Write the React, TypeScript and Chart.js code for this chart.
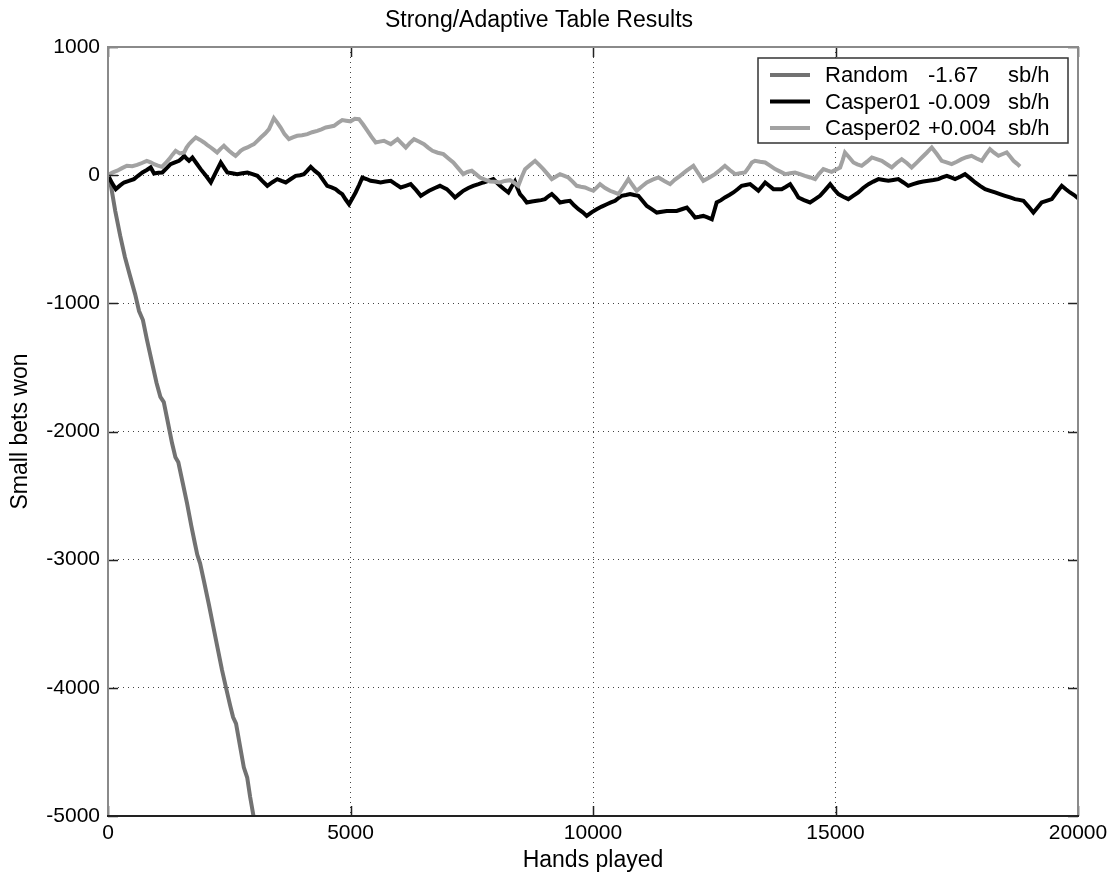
import React, { useEffect, useRef } from "react";
import { Chart, registerables } from "chart.js";

Chart.register(...registerables);

const chartTitle = "Strong/Adaptive Table Results";
const xAxisTitle = "Hands played";
const yAxisTitle = "Small bets won";
const xTicks = [0, 5000, 10000, 15000, 20000];
const yTicks = [-5000, -4000, -3000, -2000, -1000, 0, 1000];
const seriesNames = ["Random", "Casper01", "Casper02"];
const seriesRates = ["-1.67", "-0.009", "+0.004"];
const rateUnit = "sb/h";
const seriesColors = ["#727272", "#000000", "#a2a2a2"];

const randomHands = [0, 60, 150, 250, 350, 450, 560, 640, 720, 800, 900, 1000, 1080, 1150, 1230, 1320, 1390, 1450, 1540, 1630, 1720, 1790, 1840, 1900, 1980, 2080, 2170, 2260, 2350, 2440, 2520, 2580, 2640, 2720, 2800, 2870, 2930, 3000, 3030];
const randomWon = [0, -80, -280, -470, -640, -780, -930, -1060, -1130, -1280, -1450, -1620, -1730, -1770, -1920, -2090, -2200, -2240, -2400, -2560, -2740, -2870, -2960, -3030, -3170, -3350, -3520, -3690, -3860, -4010, -4140, -4230, -4280, -4450, -4620, -4700, -4850, -5000, -5060];

const casper01Hands = [0, 80, 160, 250, 330, 430, 535, 620, 710, 800, 880, 950, 1040, 1120, 1210, 1290, 1380, 1465, 1520, 1570, 1620, 1670, 1740, 1820, 1910, 2020, 2120, 2220, 2325, 2400, 2460, 2560, 2665, 2770, 2875, 2980, 3080, 3180, 3285, 3390, 3490, 3580, 3665, 3770, 3870, 3960, 4040, 4110, 4180, 4260, 4350, 4440, 4520, 4610, 4695, 4760, 4830, 4900, 4970, 5040, 5105, 5180, 5245, 5330, 5415, 5520, 5620, 5720, 5830, 5930, 6035, 6140, 6240, 6350, 6450, 6540, 6620, 6740, 6845, 6915, 6985, 7070, 7155, 7240, 7325, 7430, 7530, 7640, 7740, 7840, 7945, 8015, 8085, 8170, 8255, 8320, 8390, 8440, 8495, 8570, 8635, 8740, 8840, 8930, 9010, 9080, 9150, 9240, 9320, 9420, 9525, 9610, 9700, 9790, 9870, 9970, 10075, 10180, 10285, 10370, 10455, 10520, 10590, 10680, 10765, 10850, 10935, 11020, 11110, 11210, 11315, 11420, 11520, 11620, 11725, 11830, 11935, 12020, 12105, 12190, 12275, 12360, 12450, 12500, 12550, 12640, 12720, 12810, 12895, 12980, 13065, 13150, 13240, 13340, 13410, 13480, 13550, 13640, 13720, 13800, 13890, 13980, 14065, 14150, 14235, 14350, 14475, 14580, 14680, 14790, 14890, 14970, 15060, 15160, 15265, 15370, 15470, 15570, 15680, 15780, 15885, 15990, 16090, 16190, 16295, 16400, 16500, 16600, 16710, 16810, 16915, 17020, 17120, 17200, 17295, 17380, 17465, 17570, 17670, 17780, 17880, 17980, 18085, 18190, 18290, 18390, 18495, 18600, 18700, 18790, 18875, 18980, 19080, 19170, 19250, 19350, 19460, 19560, 19665, 19750, 19835, 19920, 20000];
const casper01Won = [0, -60, -109, -80, -57, -45, -31, -5, 21, 40, 60, 13, 18, 21, 55, 86, 100, 112, 130, 151, 130, 112, 138, 95, 47, -5, -57, 20, 99, 55, 21, 15, 8, 15, 21, 8, -5, -45, -83, -55, -31, -45, -57, -30, -5, 0, 8, 35, 65, 35, 8, -40, -83, -95, -109, -130, -148, -190, -227, -180, -135, -75, -18, -30, -44, -50, -57, -50, -44, -70, -96, -83, -70, -115, -161, -140, -122, -100, -83, -96, -109, -140, -174, -148, -122, -100, -83, -70, -57, -45, -31, -57, -83, -110, -135, -90, -49, -100, -148, -180, -213, -205, -200, -195, -187, -165, -148, -180, -213, -205, -200, -235, -266, -290, -318, -290, -266, -245, -227, -213, -200, -180, -161, -155, -148, -155, -161, -200, -240, -265, -292, -285, -279, -279, -279, -266, -253, -290, -331, -325, -318, -330, -344, -280, -213, -195, -174, -155, -135, -110, -83, -77, -70, -100, -122, -90, -57, -85, -109, -109, -109, -90, -70, -120, -174, -195, -213, -187, -161, -115, -70, -110, -148, -168, -187, -160, -135, -100, -70, -50, -31, -38, -44, -38, -31, -57, -83, -70, -57, -50, -44, -38, -31, -18, -5, -18, -31, -12, 8, -25, -57, -83, -109, -122, -135, -148, -161, -174, -187, -193, -200, -245, -292, -250, -213, -200, -187, -135, -83, -110, -135, -155, -180];

const casper02Hands = [0, 90, 190, 290, 390, 500, 600, 700, 800, 880, 950, 1030, 1110, 1190, 1260, 1330, 1395, 1480, 1570, 1620, 1670, 1740, 1810, 1900, 1980, 2050, 2120, 2190, 2250, 2320, 2390, 2440, 2495, 2560, 2630, 2690, 2735, 2800, 2875, 2940, 3010, 3080, 3150, 3240, 3320, 3380, 3420, 3490, 3560, 3640, 3730, 3810, 3900, 4000, 4110, 4210, 4315, 4400, 4490, 4570, 4660, 4750, 4830, 4910, 5000, 5090, 5175, 5260, 5350, 5430, 5520, 5600, 5690, 5760, 5830, 5900, 5970, 6050, 6140, 6220, 6310, 6410, 6515, 6600, 6690, 6800, 6915, 7020, 7120, 7220, 7325, 7410, 7500, 7580, 7670, 7770, 7875, 7980, 8080, 8180, 8290, 8380, 8460, 8530, 8600, 8700, 8805, 8890, 8975, 9060, 9150, 9240, 9320, 9410, 9490, 9580, 9665, 9750, 9835, 9920, 10007, 10080, 10145, 10250, 10350, 10440, 10525, 10630, 10730, 10810, 10900, 11000, 11110, 11230, 11350, 11470, 11590, 11690, 11795, 11930, 12070, 12170, 12275, 12400, 12515, 12620, 12720, 12820, 12930, 13030, 13135, 13210, 13275, 13340, 13445, 13550, 13650, 13755, 13860, 13960, 14065, 14165, 14270, 14370, 14480, 14580, 14660, 14750, 14840, 14920, 15010, 15095, 15150, 15195, 15280, 15370, 15450, 15540, 15650, 15750, 15850, 15955, 16060, 16160, 16260, 16365, 16470, 16570, 16680, 16780, 16880, 16985, 17090, 17190, 17290, 17395, 17500, 17600, 17700, 17805, 17910, 18015, 18100, 18185, 18270, 18360, 18450, 18530, 18600, 18670, 18740, 18805];
const casper02Won = [0, 20, 35, 55, 73, 70, 80, 95, 112, 100, 86, 75, 65, 95, 125, 160, 190, 170, 177, 215, 242, 270, 294, 275, 255, 235, 216, 195, 177, 205, 229, 210, 190, 170, 151, 172, 190, 205, 216, 230, 242, 268, 294, 325, 359, 410, 445, 410, 372, 320, 281, 295, 307, 312, 320, 335, 346, 358, 372, 378, 385, 410, 430, 425, 420, 440, 437, 395, 346, 300, 255, 262, 268, 255, 242, 262, 281, 250, 216, 250, 281, 262, 242, 215, 190, 175, 164, 130, 99, 55, 8, 25, 34, 10, -18, -35, -49, -52, -57, -45, -39, -60, -83, -15, 47, 80, 112, 80, 47, 10, -31, -10, 8, -5, -18, -50, -83, -90, -96, -110, -122, -95, -70, -100, -122, -135, -148, -90, -31, -75, -122, -90, -57, -35, -18, -45, -70, -35, -5, 35, 73, 15, -44, -18, 8, 40, 73, 40, 8, 15, 21, 60, 99, 112, 105, 99, 75, 47, 28, 8, 15, 21, 8, -5, -18, -31, 10, 47, 35, 26, 43, 60, 120, 177, 140, 99, 85, 73, 105, 138, 125, 112, 85, 60, 95, 125, 95, 60, 100, 138, 175, 216, 165, 112, 100, 86, 105, 125, 140, 151, 130, 112, 160, 203, 175, 151, 165, 177, 145, 112, 90, 68];

const FONT = "'Liberation Sans', Arial, Helvetica, sans-serif";

const toPoints = (xs: number[], ys: number[]) => xs.map((x, i) => ({ x, y: ys[i] }));

const framePlugin = {
  id: "matlabFrame",
  afterDraw(chart: any) {
    const ctx = chart.ctx as CanvasRenderingContext2D;
    const { left, top, right, bottom } = chart.chartArea;
    const xs = chart.scales.x;
    const ys = chart.scales.y;
    ctx.save();
    // inward tick marks
    ctx.strokeStyle = "#222";
    ctx.lineWidth = 1.5;
    ctx.beginPath();
    xs.ticks.forEach((t: any) => {
      const px = Math.round(xs.getPixelForValue(t.value)) + 0.5;
      ctx.moveTo(px, bottom);
      ctx.lineTo(px, bottom - 10);
      ctx.moveTo(px, top);
      ctx.lineTo(px, top + 10);
    });
    ys.ticks.forEach((t: any) => {
      const py = Math.round(ys.getPixelForValue(t.value)) + 0.5;
      ctx.moveTo(left, py);
      ctx.lineTo(left + 10, py);
      ctx.moveTo(right, py);
      ctx.lineTo(right - 10, py);
    });
    ctx.stroke();
    // box
    ctx.lineWidth = 2;
    ctx.strokeStyle = "#8a8a8a";
    ctx.beginPath();
    ctx.moveTo(left, bottom);
    ctx.lineTo(left, top);
    ctx.lineTo(right, top);
    ctx.lineTo(right, bottom);
    ctx.stroke();
    ctx.strokeStyle = "#222";
    ctx.beginPath();
    ctx.moveTo(left - 1, bottom);
    ctx.lineTo(right + 1, bottom);
    ctx.stroke();

    // legend box
    const bw = 310;
    const bh = 85;
    const bx = right - 10 - bw;
    const by = top + 11;
    ctx.fillStyle = "#ffffff";
    ctx.fillRect(bx, by, bw, bh);
    ctx.strokeStyle = "#333";
    ctx.lineWidth = 1.5;
    ctx.strokeRect(bx, by, bw, bh);
    ctx.font = `22px ${FONT}`;
    ctx.textBaseline = "middle";
    ctx.textAlign = "left";
    const datasets = chart.data.datasets;
    datasets.forEach((ds: any, i: number) => {
      const y = by + 17 + i * 26.5;
      ctx.strokeStyle = ds.borderColor;
      ctx.lineWidth = 4;
      ctx.beginPath();
      ctx.moveTo(bx + 12, y);
      ctx.lineTo(bx + 52, y);
      ctx.stroke();
      ctx.fillStyle = "#000";
      ctx.fillText(seriesNames[i], bx + 67, y + 1);
      ctx.fillText(seriesRates[i], bx + 170, y + 1);
      ctx.fillText(rateUnit, bx + 250, y + 1);
    });
    ctx.restore();
  },
};

export default function App() {
  const ref = useRef<HTMLCanvasElement | null>(null);
  useEffect(() => {
    if (!ref.current) return;
    const series = [
      toPoints(randomHands, randomWon),
      toPoints(casper01Hands, casper01Won),
      toPoints(casper02Hands, casper02Won),
    ];
    const chart = new Chart(ref.current, {
      type: "line",
      data: {
        datasets: series.map((pts, i) => ({
          label: seriesNames[i],
          data: pts,
          borderColor: seriesColors[i],
          backgroundColor: seriesColors[i],
          borderWidth: 4,
          pointRadius: 0,
          tension: 0,
          fill: false,
          order: 2 - i,
        })),
      },
      options: {
        animation: false,
        responsive: false,
        devicePixelRatio: 1,
        layout: { padding: { left: 0, right: 37, top: 0, bottom: 0 } },
        plugins: {
          legend: { display: false },
          tooltip: { enabled: false },
          title: {
            display: true,
            text: chartTitle,
            color: "#000",
            font: { family: FONT, size: 23, weight: "normal", lineHeight: 1.2 },
            padding: { top: 7, bottom: 12.4 },
          },
        },
        scales: {
          x: {
            type: "linear",
            min: xTicks[0],
            max: xTicks[xTicks.length - 1],
            afterFit: (s: any) => { s.height = 61; },
            ticks: {
              stepSize: xTicks[1] - xTicks[0],
              color: "#000",
              font: { family: FONT, size: 21 },
              padding: 5,
              maxRotation: 0,
              callback: (v: any) => String(v),
            },
            grid: { color: "#444", lineWidth: 1, drawTicks: false },
            border: { display: false, dash: [1, 4] },
            title: {
              display: true,
              text: xAxisTitle,
              color: "#000",
              font: { family: FONT, size: 23, lineHeight: 1.2 },
              padding: { top: 0, bottom: 3 },
            },
          },
          y: {
            type: "linear",
            min: yTicks[0],
            max: yTicks[yTicks.length - 1],
            afterFit: (s: any) => { s.width = 108; },
            ticks: {
              stepSize: yTicks[1] - yTicks[0],
              color: "#000",
              font: { family: FONT, size: 21 },
              padding: 8,
              callback: (v: any) => String(v),
            },
            grid: { color: "#444", lineWidth: 1, drawTicks: false },
            border: { display: false, dash: [1, 4] },
            title: {
              display: true,
              text: yAxisTitle,
              color: "#000",
              font: { family: FONT, size: 23, lineHeight: 1.2 },
              padding: { top: 7, bottom: 0 },
            },
          },
        },
      },
      plugins: [framePlugin],
    } as any);
    return () => chart.destroy();
  }, []);
  return (
    <div style={{ position: "absolute", left: 0, top: 0, width: 1115, height: 877, background: "#fff" }}>
      <canvas ref={ref} width={1115} height={877} />
    </div>
  );
}
